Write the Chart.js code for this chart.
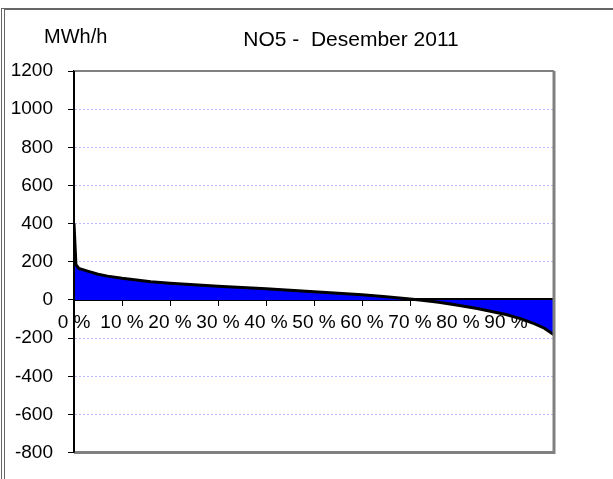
<!DOCTYPE html>
<html lang="no">
<head>
    <meta charset="UTF-8">
    <title>NO5 - Desember 2011</title>
    <script src="https://cdn.jsdelivr.net/npm/chart.js"></script>
    <style>
        body {
            margin: 0;
            padding: 0;
            background: #fff;
            overflow: hidden;
        }

        .wrap {
            position: relative;
            width: 613px;
            height: 479px;
        }

        /* outer chart frame, only top and left edges are visible */
        .frame {
            position: absolute;
            left: 1px;
            top: 8px;
            width: 700px;
            height: 600px;
            border-top: 2px solid #666;
            border-left: 4px double #666;
        }

        canvas {
            position: absolute;
            left: 0;
            top: 0;
        }
    </style>
</head>
<body>
    <div class="wrap">
        <div class="frame"></div>
        <canvas id="durationChart" width="613" height="479"></canvas>
    </div>

    <script>
        // duration curve, share of hours (%) and MWh/h
        const pct = [0, 0.4, 1, 2, 3, 5, 7, 10, 13, 16, 20, 25, 30, 35, 40, 45, 50, 55, 60, 65, 70, 72, 76, 80, 84, 87, 90, 93, 96, 98, 100];
        const vals = [400, 185, 165, 158, 150, 135, 125, 114, 105, 96, 88, 80, 72, 65, 59, 51, 43, 35, 27, 17, 5, 0, -12, -28, -45, -60, -76, -98, -125, -148, -182];

        const yTicks = [-800, -600, -400, -200, 0, 200, 400, 600, 800, 1000, 1200];
        const xTicks = [0, 10, 20, 30, 40, 50, 60, 70, 80, 90];

        const chartTitle = 'NO5 -  Desember 2011';
        const unitLabel = 'MWh/h';

        const font = 'Arial, "Liberation Sans", sans-serif';

        // title texts and the gray plot area border
        const decorations = {
            id: 'decorations',
            afterDraw(chart) {
                const ctx = chart.ctx;
                const a = chart.chartArea;
                ctx.save();
                ctx.fillStyle = '#000';
                ctx.textBaseline = 'alphabetic';
                ctx.font = '20px ' + font;
                ctx.textAlign = 'left';
                ctx.fillText(unitLabel, 44, 43);
                ctx.font = '21px ' + font;
                ctx.textAlign = 'center';
                ctx.fillText(chartTitle, 351, 46);

                ctx.strokeStyle = '#808080';
                ctx.lineWidth = 2;
                ctx.beginPath();
                ctx.moveTo(a.left, a.top);
                ctx.lineTo(a.right, a.top);
                ctx.stroke();
                ctx.lineWidth = 3;
                ctx.beginPath();
                ctx.moveTo(a.right, a.top);
                ctx.lineTo(a.right, a.bottom);
                ctx.lineTo(a.left, a.bottom);
                ctx.stroke();

                // y axis line on top of everything
                ctx.strokeStyle = '#000';
                ctx.lineWidth = 2;
                ctx.beginPath();
                ctx.moveTo(a.left, a.top);
                ctx.lineTo(a.left, a.bottom);
                ctx.stroke();
                ctx.restore();
            }
        };

        new Chart(document.getElementById('durationChart'), {
            type: 'line',
            data: {
                datasets: [{
                    data: pct.map((p, i) => ({ x: p, y: vals[i] })),
                    borderColor: '#000',
                    borderWidth: 3,
                    backgroundColor: '#0000ff',
                    fill: 'origin',
                    pointRadius: 0,
                    tension: 0
                }]
            },
            options: {
                responsive: false,
                animation: false,
                layout: {
                    padding: { top: 71, right: 59, bottom: 20, left: 0 }
                },
                plugins: {
                    legend: { display: false },
                    tooltip: { enabled: false }
                },
                scales: {
                    x: {
                        type: 'linear',
                        position: { y: 0 },
                        min: 0,
                        max: 100,
                        afterBuildTicks: (scale) => {
                            scale.ticks = xTicks.map(v => ({ value: v }));
                        },
                        ticks: {
                            autoSkip: false,
                            maxRotation: 0,
                            padding: 6,
                            color: '#000',
                            font: { family: font, size: 19 },
                            callback: (v) => v + ' %'
                        },
                        grid: {
                            drawOnChartArea: false,
                            drawTicks: true,
                            tickLength: 5,
                            tickColor: '#000',
                            tickWidth: 1
                        },
                        border: { color: '#000', width: 3 }
                    },
                    y: {
                        min: -800,
                        max: 1200,
                        afterFit: (scale) => { scale.width = 74; },
                        afterBuildTicks: (scale) => {
                            scale.ticks = yTicks.map(v => ({ value: v }));
                        },
                        ticks: {
                            padding: 15,
                            color: '#000',
                            font: { family: font, size: 19 },
                            callback: (v) => String(v)
                        },
                        grid: {
                            color: (c) => c.tick && c.tick.value === 0 ? 'rgba(0,0,0,0)' : '#b8b8ff',
                            lineWidth: 1,
                            tickColor: '#000',
                            tickLength: 6,
                            tickWidth: 1
                        },
                        border: { color: '#000', width: 2, dash: [2, 2] }
                    }
                }
            },
            plugins: [decorations]
        });
    </script>
</body>
</html>
